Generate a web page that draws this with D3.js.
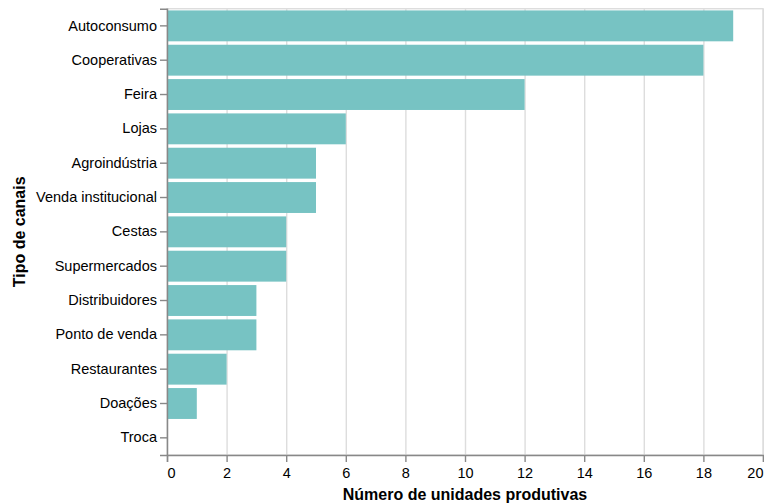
<!DOCTYPE html>
<html>
<head>
<meta charset="utf-8">
<script src="https://cdn.jsdelivr.net/npm/d3@7"></script>
<style>
  html, body { margin: 0; padding: 0; background: #fff; }
  svg { display: block; font-family: "Liberation Sans", Arial, Helvetica, sans-serif; }
</style>
</head>
<body>
<svg id="chart" width="764" height="504"></svg>
<script>
const categories = ["Autoconsumo", "Cooperativas", "Feira", "Lojas", "Agroindústria",
  "Venda institucional", "Cestas", "Supermercados", "Distribuidores", "Ponto de venda",
  "Restaurantes", "Doações", "Troca"];
const values = [19, 18, 12, 6, 5, 5, 4, 4, 3, 3, 2, 1, 0];
const xTicks = [0, 2, 4, 6, 8, 10, 12, 14, 16, 18, 20];
const xTitle = "Número de unidades produtivas";
const yTitle = "Tipo de canais";

const svg = d3.select("#chart");
const pLeft = 167, pRight = 763, pTop = 8.7, pBottom = 455;

const x = d3.scaleLinear().domain([0, 20]).range([pLeft, pRight]);
const y = d3.scaleBand().domain(categories).range([pTop, pBottom])
  .paddingInner(0.1).paddingOuter(0.05);

// grid
svg.append("g").selectAll("line").data(xTicks).join("line")
  .attr("x1", d => x(d) + 0.5).attr("x2", d => x(d) + 0.5)
  .attr("y1", pTop).attr("y2", pBottom)
  .attr("stroke", "#ddd").attr("stroke-width", 1.4);

// view border
svg.append("rect")
  .attr("x", pLeft).attr("y", pTop)
  .attr("width", pRight - pLeft).attr("height", pBottom - pTop)
  .attr("fill", "none").attr("stroke", "#ddd").attr("stroke-width", 1.4);

// bars
svg.append("g").selectAll("rect").data(categories).join("rect")
  .attr("x", x(0))
  .attr("y", d => y(d))
  .attr("width", (d, i) => x(values[i]) - x(0))
  .attr("height", y.bandwidth())
  .attr("fill", "#77c3c3");

// x axis
const xAxis = svg.append("g").attr("transform", `translate(0,${pBottom})`)
  .call(d3.axisBottom(x).tickValues(xTicks).tickSize(7).tickPadding(6));
xAxis.select(".domain").attr("stroke", "#888").attr("stroke-width", 1.4);
xAxis.selectAll(".tick line").attr("stroke", "#888").attr("stroke-width", 1.4);
xAxis.selectAll(".tick text").attr("font-size", 14.5).attr("fill", "#000")
  .attr("font-family", "'Liberation Sans', Arial, sans-serif")
  .attr("text-anchor", (d, i, n) => i === 0 ? "start" : (i === n.length - 1 ? "end" : "middle"));

// y axis
const yAxis = svg.append("g").attr("transform", `translate(${pLeft},0)`)
  .call(d3.axisLeft(y).tickSize(7).tickPadding(3));
yAxis.select(".domain").attr("stroke", "#888").attr("stroke-width", 1.4);
yAxis.selectAll(".tick line").attr("stroke", "#888").attr("stroke-width", 1.4);
yAxis.selectAll(".tick text").attr("font-size", 14.5).attr("fill", "#000")
  .attr("font-family", "'Liberation Sans', Arial, sans-serif");

// axis titles
svg.append("text")
  .attr("x", (pLeft + pRight) / 2).attr("y", 500)
  .attr("text-anchor", "middle")
  .attr("font-size", 16).attr("font-weight", "bold").attr("fill", "#000")
  .text(xTitle);

svg.append("text")
  .attr("transform", `translate(25,${(pTop + pBottom) / 2}) rotate(-90)`)
  .attr("text-anchor", "middle")
  .attr("font-size", 16).attr("font-weight", "bold").attr("fill", "#000")
  .text(yTitle);
</script>
</body>
</html>
